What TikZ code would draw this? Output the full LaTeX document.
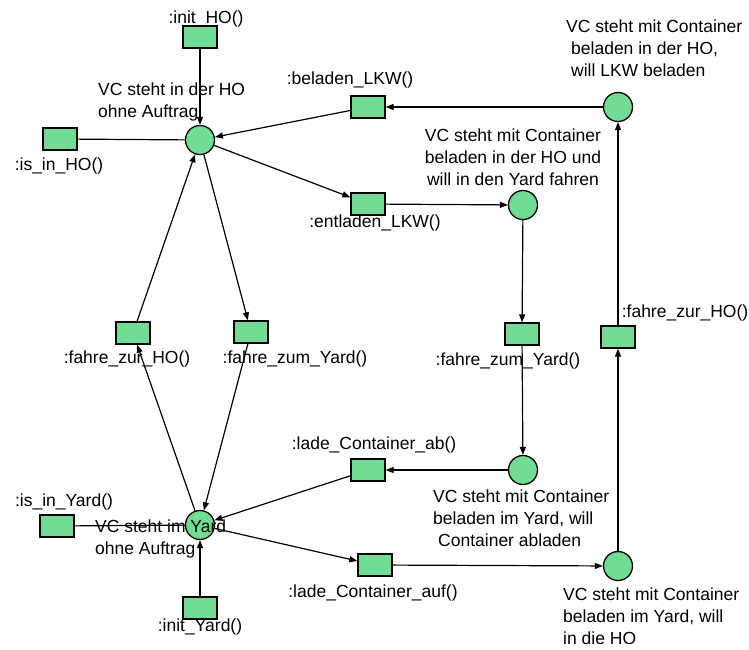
\documentclass[tikz,border=0pt]{standalone}
\usepackage{fontspec}
\setmainfont{Liberation Sans}
\usepackage{tikz}
\usetikzlibrary{arrows.meta}

\definecolor{petri}{RGB}{112,220,148}

\begin{document}
\begin{tikzpicture}[x=1pt,y=-1pt,
  place/.style={circle,draw,fill=petri,line width=1.3pt,minimum size=29pt,inner sep=0pt},
  trans/.style={rectangle,draw,fill=petri,line width=1.3pt,minimum width=34pt,minimum height=22pt,inner sep=0pt},
  arc/.style={line width=1.2pt,-{Triangle[length=8pt,width=6pt]}},
  txt/.style={font=\fontsize{17.5}{22}\selectfont,inner sep=0pt}]
\useasboundingbox (0,0) rectangle (749,649);
% places
\foreach \n/\x/\y in {pHO/200/140, pLKW/618/107, pFahrYard/523/205,
  pAbladen/523/470, pYard/200/525, pFahrHO/618/566}
  \node[place] (\n) at (\x,\y) {};
% transitions
\foreach \n/\x/\y in {tInitHO/200/37, tIsInHO/60/139, tBeladen/368/107,
  tEntladen/368/204, tZurHOl/133/333, tZumYardl/251/332, tZumYardr/522/334,
  tZurHOr/618/337, tAb/368/470, tIsInYard/57/526, tInitYard/200/608, tAuf/375/565}
  \node[trans] (\n) at (\x,\y) {};
% arcs
\foreach \a/\b in {tInitHO/pHO, tBeladen/pHO, pLKW/tBeladen, pHO/tEntladen,
  tEntladen/pFahrYard, pFahrYard/tZumYardr, tZumYardr/pAbladen, pAbladen/tAb,
  tAb/pYard, pYard/tAuf, tAuf/pFahrHO, pFahrHO/tZurHOr, tZurHOr/pLKW,
  pHO/tZumYardl, tZumYardl/pYard, pYard/tZurHOl, tZurHOl/pHO, tInitYard/pYard}
  \draw[arc] (\a) -- (\b);
\draw[line width=1.2pt] (tIsInHO) -- (pHO);
\draw[line width=1.2pt] (tIsInYard) -- (pYard);
% labels
\node[txt] (lInitHO) at (206,19) {:init\_HO()};
\node[txt] (lIsInHO) at (59,166) {:is\_in\_HO()};
\node[txt] (lBeladen) at (350,80) {:beladen\_LKW()};
\node[txt] (lEntladen) at (375,223) {:entladen\_LKW()};
\node[txt] (lZurHOl) at (127,359) {:fahre\_zur\_HO()};
\node[txt] (lZumYardl) at (295,359) {:fahre\_zum\_Yard()};
\node[txt] (lZumYardr) at (508,361) {:fahre\_zum\_Yard()};
\node[txt] (lZurHOr) at (685,313) {:fahre\_zur\_HO()};
\node[txt] (lAb) at (374,445) {:lade\_Container\_ab()};
\node[txt] (lAuf) at (373,593) {:lade\_Container\_auf()};
\node[txt] (lIsInYard) at (64,502) {:is\_in\_Yard()};
\node[txt] (lInitYard) at (200,627) {:init\_Yard()};
\node[txt,align=left,anchor=west] (sHO) at (98,102) {VC steht in der HO\\ohne Auftrag};
\node[txt,align=left,anchor=west] (sLKW) at (566,48)
  {VC steht mit Container\\\hspace*{5pt}beladen in der HO,\\\hspace*{5pt}will LKW beladen};
\node[txt,align=center] (sFahrYard) at (513,157)
  {VC steht mit Container\\ beladen in der HO und\\will in den Yard fahren};
\node[txt,align=left,anchor=west] (sAbladen) at (433,518)
  {VC steht mit Container\\beladen im Yard, will\\\hspace*{5pt}Container abladen};
\node[txt,align=left,anchor=west] (sYard) at (95,539) {VC steht im Yard\\ohne Auftrag};
\node[txt,align=left,anchor=west] (sFahrHO) at (563,616)
  {VC steht mit Container\\beladen im Yard, will\\in die HO};
\end{tikzpicture}
\end{document}
